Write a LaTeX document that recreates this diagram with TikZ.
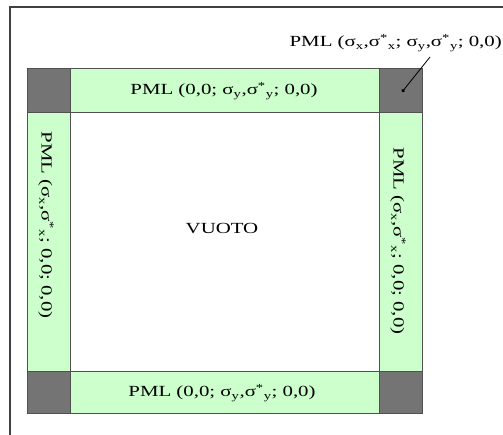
\documentclass[tikz,border=0pt]{standalone}
\usepackage{fontspec}
\setmainfont[FakeStretch=1.35]{Liberation Serif}
\usetikzlibrary{arrows.meta}
\newcommand\ssx[2]{\textsuperscript{#1}\textsubscript{#2}}
\definecolor{pmlgreen}{HTML}{CCFFCC}
\definecolor{pmlgray}{HTML}{747474}
\definecolor{edgegray}{HTML}{505050}
\tikzset{
  greenbox/.style={fill=pmlgreen, draw=edgegray, line width=0.6pt},
  graybox/.style={fill=pmlgray, draw=edgegray, line width=0.6pt},
  lbl/.style={font=\fontsize{15.5}{18}\selectfont, inner sep=0pt},
}
\begin{document}
\begin{tikzpicture}[x=1bp,y=-1bp]
\useasboundingbox (0,0) rectangle (503,435);
\fill[white] (0,0) rectangle (503,435);
% outer frame (cut off at right and bottom)
\draw[line width=2pt, color=edgegray!80!black] (10,440) -- (10,7) -- (510,7);
% inner square
\draw[fill=white, draw=edgegray, line width=0.6pt] (70,112) rectangle (379,371);
% strips
\path[greenbox] (70,68) rectangle (379,112);
\path[greenbox] (70,371) rectangle (379,413);
\path[greenbox] (27,112) rectangle (70,371);
\path[greenbox] (379,112) rectangle (422,371);
% corners
\path[graybox] (27,68) rectangle (70,112);
\path[graybox] (379,68) rectangle (422,112);
\path[graybox] (27,371) rectangle (70,413);
\path[graybox] (379,371) rectangle (422,413);
% labels
\node[lbl] (top) at (224,91) {PML (0,0; σ\textsubscript{y},σ\ssx{*}{y}; 0,0)};
\node[lbl] (bot) at (222,393) {PML (0,0; σ\textsubscript{y},σ\ssx{*}{y}; 0,0)};
\node[lbl, rotate=-90] (left) at (46,225) {PML (σ\textsubscript{x},σ\ssx{*}{x}; 0,0; 0,0)};
\node[lbl, rotate=-90] (right) at (398,241) {PML (σ\textsubscript{x},σ\ssx{*}{x}; 0,0; 0,0)};
\node[lbl] (void) at (222,229) {VUOTO};
\node[lbl, anchor=east] (corner) at (502,43) {PML (σ\textsubscript{x},σ\ssx{*}{x}; σ\textsubscript{y},σ\ssx{*}{y}; 0,0)};
\coordinate (lstart) at (430,57);
\coordinate (tip) at (402,92);
\draw[line width=0.8pt, -{Circle[length=3.5pt]}] (lstart) -- (tip);
\end{tikzpicture}
\end{document}
